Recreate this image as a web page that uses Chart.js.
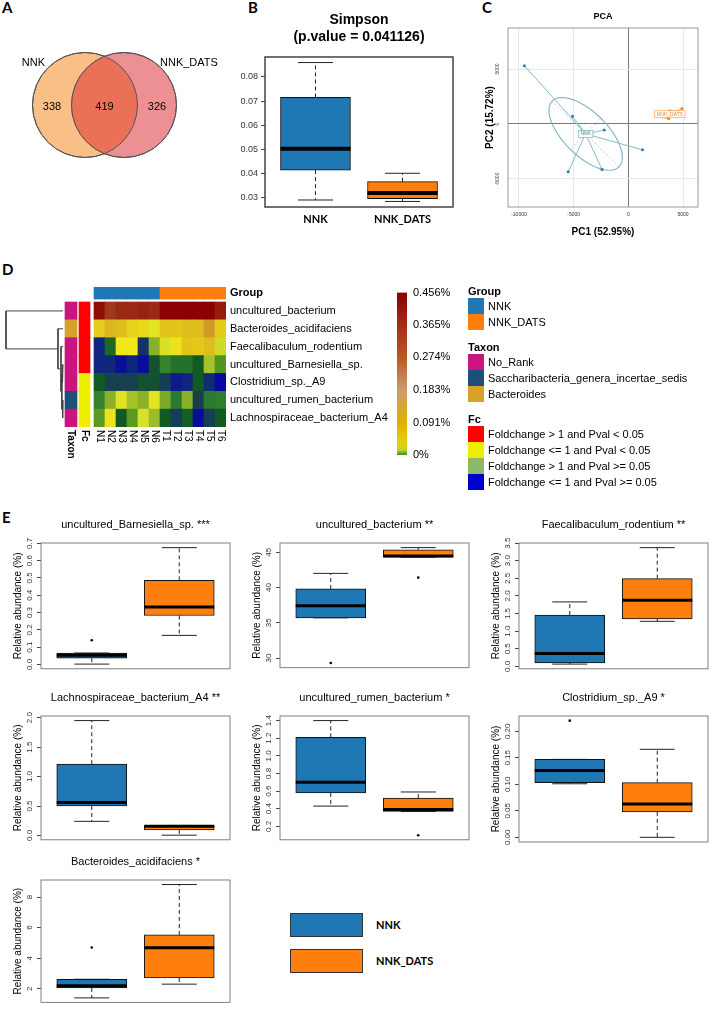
<!DOCTYPE html>
<html>
<head>
<meta charset="utf-8">
<title>NNK vs NNK_DATS microbiota</title>
<script src="https://cdn.jsdelivr.net/npm/chart.js@4.4.1/dist/chart.umd.min.js"></script>
<style>
  body { margin: 0; background: #fff; }
  #fig { position: relative; width: 710px; height: 1012px; overflow: hidden; font-family: "Liberation Sans", Arial, sans-serif; color: #000; }
  #fig canvas { position: absolute; }
  .tag { position: absolute; font: bold 15px Lato, sans-serif; line-height: 15px; }
  .txt { position: absolute; white-space: nowrap; font-size: 11px; line-height: 11px; }
  .sw { position: absolute; box-sizing: border-box; }
</style>
</head>
<body>
<div id="fig"></div>
<script>
// ---- data ----
const groups = ['NNK', 'NNK_DATS'];
const vennCounts = [338, 419, 326]; // NNK only, shared, NNK_DATS only

// Simpson index, [min, q1, median, q3, max]
const simpsonStats = [[0.0289, 0.0413, 0.0502, 0.0715, 0.0860], [0.0283, 0.0295, 0.0318, 0.0365, 0.0400]];
const simpsonP = 0.041126;
const simpsonTicks = [0.03, 0.04, 0.05, 0.06, 0.07, 0.08];

// PCA scores
const pcaNNK = [[-9500, 5300], [-5100, 700], [-2200, -550], [1300, -2350], [-2400, -4150], [-5500, -4350]];
const pcaDATS = [[2600, 750], [3600, 550], [3800, 1200], [4200, 950], [4900, 1400], [3700, 500]];
const pcaVar = [52.95, 15.72];
const pcaXTicks = [-10000, -5000, 0, 5000];
const pcaYTicks = [-5000, 0, 5000];

// heatmap
const taxa = ['uncultured_bacterium', 'Bacteroides_acidifaciens', 'Faecalibaculum_rodentium', 'uncultured_Barnesiella_sp.',
  'Clostridium_sp._A9', 'uncultured_rumen_bacterium', 'Lachnospiraceae_bacterium_A4'];
const samples = ['N1', 'N2', 'N3', 'N4', 'N5', 'N6', 'T1', 'T2', 'T3', 'T4', 'T5', 'T6'];
const sampleGroup = [0, 0, 0, 0, 0, 0, 1, 1, 1, 1, 1, 1];
const heat = [
  [0.96, 0.80, 0.88, 0.88, 0.90, 0.88, 1.00, 1.00, 1.00, 1.00, 1.00, 0.92],
  [0.60, 0.64, 0.63, 0.59, 0.58, 0.52, 0.62, 0.62, 0.63, 0.63, 0.68, 0.61],
  [0.08, 0.25, 0.55, 0.55, 0.12, 0.42, 0.50, 0.56, 0.62, 0.61, 0.63, 0.49],
  [0.08, 0.09, 0.02, 0.08, 0.01, 0.20, 0.31, 0.27, 0.27, 0.22, 0.45, 0.35],
  [0.22, 0.16, 0.16, 0.16, 0.20, 0.20, 0.15, 0.05, 0.08, 0.22, 0.10, 0.00],
  [0.31, 0.42, 0.52, 0.45, 0.42, 0.52, 0.40, 0.29, 0.42, 0.16, 0.29, 0.30],
  [0.36, 0.56, 0.22, 0.36, 0.50, 0.44, 0.22, 0.15, 0.23, 0.01, 0.15, 0.22]
];
const taxonNames = ['No_Rank', 'Saccharibacteria_genera_incertae_sedis', 'Bacteroides'];
const taxonClass = [0, 2, 0, 0, 0, 1, 0];
const fcNames = ['Foldchange > 1 and Pval < 0.05', 'Foldchange <= 1 and Pval < 0.05', 'Foldchange > 1 and Pval >= 0.05', 'Foldchange <= 1 and Pval >= 0.05'];
const fcClass = [0, 0, 0, 0, 1, 1, 1];
// hclust style merges: negative = leaf (1-based), positive = earlier merge
const dendMerge = [[-6, -7, 0.008], [-4, -5, 0.012], [2, 1, 0.02], [-3, 3, 0.035], [-2, 4, 0.088], [-1, 5, 1]];
const colorbarTicks = [0, 0.091, 0.183, 0.274, 0.365, 0.456];

// boxplots (relative abundance %), [min, q1, median, q3, max]
const boxTaxa = ['uncultured_Barnesiella_sp.', 'uncultured_bacterium', 'Faecalibaculum_rodentium', 'Lachnospiraceae_bacterium_A4',
  'uncultured_rumen_bacterium', 'Clostridium_sp._A9', 'Bacteroides_acidifaciens'];
const boxStars = ['***', '**', '**', '**', '*', '*', '*'];
const boxNNK = [
  [0.002, 0.036, 0.053, 0.066, 0.066],
  [35.7, 35.7, 37.4, 39.8, 42.0],
  [0.066, 0.10, 0.37, 1.46, 1.83],
  [0.24, 0.50, 0.56, 1.21, 1.95],
  [0.43, 0.58, 0.70, 1.21, 1.40],
  [0.101, 0.103, 0.126, 0.147, 0.147],
  [1.40, 2.05, 2.20, 2.62, 2.62]
];
const boxDATS = [
  [0.168, 0.283, 0.332, 0.486, 0.675],
  [44.3, 44.3, 44.45, 45.35, 45.65],
  [1.28, 1.35, 1.88, 2.49, 3.37],
  [0.005, 0.095, 0.155, 0.165, 0.17],
  [0.37, 0.37, 0.39, 0.52, 0.59],
  [0.0, 0.048, 0.063, 0.103, 0.166],
  [2.30, 2.70, 4.68, 5.52, 8.82]
];
const outNNK = [[0.14], [29.3], [], [], [], [0.22], [4.7]];
const outDATS = [[], [41.4], [], [], [0.10], [], []];
const boxTicks = [
  [0, 0.1, 0.2, 0.3, 0.4, 0.5, 0.6, 0.7],
  [30, 35, 40, 45],
  [0, 0.5, 1, 1.5, 2, 2.5, 3, 3.5],
  [0, 0.5, 1, 1.5, 2],
  [0.2, 0.4, 0.6, 0.8, 1.0, 1.2, 1.4],
  [0, 0.05, 0.1, 0.15, 0.2],
  [2, 4, 6, 8]
];
const boxDecimals = [1, 0, 1, 1, 1, 2, 0];

// ---- styles ----
const BLUE = '#1F77B4', ORANGE = '#FF7F0E';
const heatStops = [[0, '#0808A0'], [0.08, '#0F2580'], [0.16, '#164050'], [0.22, '#135A22'], [0.3, '#2E7E30'], [0.36, '#5A9A20'],
  [0.42, '#8AB02A'], [0.5, '#D8E028'], [0.55, '#EEE81C'], [0.62, '#E2C41A'], [0.68, '#D09A28'], [0.78, '#A03B1E'], [0.88, '#9B2A15'], [1, '#8B0000']];
const cbStops = [[0, '#2F8F2A'], [0.03, '#C8D21E'], [0.08, '#E6D00A'], [0.2, '#E0B000'], [0.4, '#CE9A70'], [0.6, '#B85A24'], [0.8, '#A52D12'], [1, '#8B0000']];
const taxonColors = ['#CC1480', '#1E4E7A', '#D8A22A'];
const fcColors = ['#FF0000', '#EEEE00', '#8DB96D', '#0000CC'];

Chart.defaults.font.family = '"Liberation Sans", Arial, sans-serif';
Chart.defaults.color = '#000';
Chart.defaults.animation = false;
Chart.defaults.events = [];
Chart.defaults.layout.autoPadding = false;
Chart.defaults.plugins.legend.display = false;
Chart.defaults.plugins.tooltip.enabled = false;

const fig = document.getElementById('fig');
const mctx = document.createElement('canvas').getContext('2d');

function canvasAt(x, y, w, h) {
  const c = document.createElement('canvas');
  c.width = w; c.height = h;
  c.style.left = x + 'px'; c.style.top = y + 'px';
  c.style.width = w + 'px'; c.style.height = h + 'px';
  fig.appendChild(c);
  return c;
}
function addDiv(cls, text, x, y, css) {
  const d = document.createElement('div');
  d.className = cls;
  d.textContent = text;
  d.style.left = x + 'px'; d.style.top = y + 'px';
  if (css) Object.assign(d.style, css);
  fig.appendChild(d);
  return d;
}
function seg(ctx, x1, y1, x2, y2) {
  ctx.beginPath(); ctx.moveTo(x1, y1); ctx.lineTo(x2, y2); ctx.stroke();
}
function hex2rgb(h) { return [1, 3, 5].map(i => parseInt(h.slice(i, i + 2), 16)); }
function ramp(stops, v) {
  for (let i = 1; i < stops.length; i++) {
    if (v <= stops[i][0]) {
      const [t0, c0] = stops[i - 1], [t1, c1] = stops[i];
      const f = (v - t0) / (t1 - t0), a = hex2rgb(c0), b = hex2rgb(c1);
      return 'rgb(' + a.map((x, k) => Math.round(x + (b[k] - x) * f)).join(',') + ')';
    }
  }
  return stops[stops.length - 1][1];
}
// empty right axis so the chart title centres over the plot
const spacer = w => ({
  position: 'right', display: true, afterFit: s => { s.width = w; },
  grid: {display: false, drawTicks: false}, ticks: {display: false}, border: {display: false}
});

// ---- panel letters ----
addDiv('tag', 'A', 2, 0);
addDiv('tag', 'B', 248, 0);
addDiv('tag', 'C', 482, 0);
addDiv('tag', 'D', 2, 262);
addDiv('tag', 'E', 2, 510);

// ---- A: Venn ----
const vennPlugin = {
  id: 'venn',
  afterDatasetsDraw(chart) {
    const {ctx} = chart;
    const [a, b] = chart.getDatasetMeta(0).data;
    const r = a.options.radius;
    ctx.save();
    ctx.beginPath(); ctx.arc(a.x, a.y, r, 0, 2 * Math.PI); ctx.clip();
    ctx.beginPath(); ctx.arc(b.x, b.y, r, 0, 2 * Math.PI);
    ctx.fillStyle = '#EA7058'; ctx.fill();
    ctx.restore();
    ctx.save();
    ctx.strokeStyle = '#555'; ctx.lineWidth = 1;
    [a, b].forEach(p => { ctx.beginPath(); ctx.arc(p.x, p.y, r, 0, 2 * Math.PI); ctx.stroke(); });
    ctx.fillStyle = '#000'; ctx.font = '11px "Liberation Sans"';
    ctx.textAlign = 'center'; ctx.textBaseline = 'middle';
    const mid = (a.x + b.x) / 2, cy = a.y + 2;
    ctx.fillText(vennCounts[0], mid - r, cy);
    ctx.fillText(vennCounts[1], mid, cy);
    ctx.fillText(vennCounts[2], mid + r, cy);
    ctx.textAlign = 'right'; ctx.fillText(groups[0], a.x - 40, a.y - 42);
    ctx.textAlign = 'left'; ctx.fillText(groups[1], b.x + 36, b.y - 42);
    ctx.restore();
  }
};
new Chart(canvasAt(0, 0, 220, 200), {
  type: 'scatter',
  data: {datasets: [{
    data: groups.map((g, i) => ({x: i, y: 0})),
    pointRadius: 52.5, backgroundColor: ['#F9BF87', '#EC9094'], borderColor: '#555', borderWidth: 1
  }]},
  options: {
    responsive: false, layout: {padding: 0},
    scales: {x: {display: false, min: -85 / 39, max: 135 / 39}, y: {display: false, min: -0.95, max: 1.05}}
  },
  plugins: [vennPlugin]
});

// ---- boxplot helper ----
function boxChart(el, o) {
  const all = o.stats.flat().concat(o.outliers.flat());
  const lo = Math.min(...all), hi = Math.max(...all), ext = (hi - lo) * 0.04;
  const fmt = v => v.toFixed(o.dec);
  let tickPad = 3;
  if (o.rotateTicks) {
    mctx.font = o.tickSize + 'px "Liberation Sans"';
    const widest = Math.max(...o.ticks.map(v => mctx.measureText(fmt(v)).width));
    tickPad = o.tickCenter - 4 - widest / 2;
  }
  const extras = {
    id: 'boxExtras',
    beforeDatasetsDraw(chart) {
      const {ctx, scales: {x, y}} = chart;
      const bars = chart.getDatasetMeta(0).data;
      ctx.save();
      ctx.strokeStyle = '#222'; ctx.lineWidth = 1;
      o.stats.forEach((s, g) => {
        const cx = x.getPixelForValue(g + 1), half = bars[g].width / 2;
        ctx.setLineDash([4, 3]);
        seg(ctx, cx, y.getPixelForValue(s[3]), cx, y.getPixelForValue(s[4]));
        seg(ctx, cx, y.getPixelForValue(s[1]), cx, y.getPixelForValue(s[0]));
        ctx.setLineDash([]);
        [s[0], s[4]].forEach(v => seg(ctx, cx - half / 2, y.getPixelForValue(v), cx + half / 2, y.getPixelForValue(v)));
      });
      ctx.restore();
    },
    afterDatasetsDraw(chart) {
      const {ctx, scales: {x, y}} = chart;
      const bars = chart.getDatasetMeta(0).data;
      ctx.save();
      ctx.strokeStyle = '#000'; ctx.lineWidth = o.medianW;
      o.stats.forEach((s, g) => {
        const cx = x.getPixelForValue(g + 1), half = bars[g].width / 2;
        seg(ctx, cx - half, y.getPixelForValue(s[2]), cx + half, y.getPixelForValue(s[2]));
      });
      ctx.restore();
    },
    afterDraw(chart) {
      const {ctx, chartArea: a} = chart;
      ctx.save();
      ctx.strokeStyle = o.frameColor; ctx.lineWidth = o.frameW;
      ctx.strokeRect(a.left, a.top, a.right - a.left, a.bottom - a.top);
      ctx.restore();
    }
  };
  return new Chart(el, {
    type: 'bar',
    data: {datasets: [{
      data: o.stats.map((s, g) => ({x: g + 1, y: [s[1], s[3]]})),
      backgroundColor: [BLUE, ORANGE], borderColor: '#111', borderWidth: 1, borderSkipped: false, barThickness: o.boxW
    }, {
      type: 'scatter',
      data: o.outliers.flatMap((list, g) => list.map(v => ({x: g + 1, y: v}))),
      pointRadius: 1.3, pointBackgroundColor: '#000', pointBorderWidth: 0
    }]},
    options: {
      responsive: false,
      layout: {padding: o.pad},
      plugins: {title: {display: true, text: o.title, font: o.titleFont, padding: o.titlePad, color: '#000'}},
      scales: {
        x: {
          type: 'linear', offset: false, min: 0.42, max: 2.58, display: !!o.xLabels,
          afterFit: s => { s.height = o.xH || 0; },
          afterBuildTicks: s => { s.ticks = [{value: 1}, {value: 2}]; },
          grid: {display: false, drawTicks: false, offset: false}, border: {display: false},
          ticks: {callback: v => groups[v - 1], font: {family: 'Lato', weight: 'bold', size: 11}, padding: 6, color: '#000', autoSkip: false, maxRotation: 0}
        },
        y: {
          min: lo - ext, max: hi + ext,
          afterFit: s => { s.width = o.yW; },
          afterBuildTicks: s => { s.ticks = o.ticks.map(v => ({value: v})); },
          grid: {drawOnChartArea: false, tickLength: 4, color: '#444'}, border: {display: false},
          ticks: {
            font: {size: o.tickSize}, color: '#333', callback: v => fmt(v), autoSkip: false, padding: tickPad,
            minRotation: o.rotateTicks ? 90 : 0, maxRotation: o.rotateTicks ? 90 : 0, crossAlign: o.rotateTicks ? 'center' : 'near'
          },
          title: o.yTitle ? {display: true, text: o.yTitle, font: {size: 10}, padding: {top: 12, bottom: 0}, color: '#000'} : {display: false}
        },
        y2: spacer(o.yW)
      }
    },
    plugins: [extras]
  });
}

// ---- B: Simpson ----
boxChart(canvasAt(215, 0, 288, 230), {
  stats: simpsonStats, outliers: [[], []], ticks: simpsonTicks, dec: 2,
  title: ['Simpson', '(p.value = ' + simpsonP + ')'],
  titleFont: {size: 14, weight: 'bold', lineHeight: 1.214}, titlePad: {top: 11.5, bottom: 11.5},
  pad: 0, yW: 50, xH: 23, xLabels: true,
  tickSize: 9, rotateTicks: false, boxW: 70, medianW: 4, frameColor: '#444', frameW: 1.5
});

// ---- C: PCA ----
function classStats(pts) {
  const n = pts.length;
  const mx = pts.reduce((s, p) => s + p[0], 0) / n, my = pts.reduce((s, p) => s + p[1], 0) / n;
  let a = 0, b = 0, c = 0;
  pts.forEach(p => { a += (p[0] - mx) ** 2; b += (p[0] - mx) * (p[1] - my); c += (p[1] - my) ** 2; });
  a /= n; b /= n; c /= n;
  const m = (a + c) / 2, d = Math.sqrt(((a - c) / 2) ** 2 + b * b);
  const l1 = m + d, l2 = Math.max(m - d, 0);
  let v = [b, l1 - a]; const len = Math.hypot(v[0], v[1]) || 1; v = [v[0] / len, v[1] / len];
  return {mx, my, a1: [v[0] * Math.sqrt(l1), v[1] * Math.sqrt(l1)], a2: [-v[1] * Math.sqrt(l2), v[0] * Math.sqrt(l2)]};
}
const pcaClasses = [[pcaNNK, '#86B9C4', '#4F8E9C', groups[0]], [pcaDATS, '#F6AE6C', '#F08A2C', groups[1]]];
const pcaPlugin = {
  id: 'pcaClass',
  beforeDatasetsDraw(chart) {
    const {ctx, chartArea: ar, scales: {x, y}} = chart;
    ctx.save();
    ctx.beginPath(); ctx.rect(ar.left, ar.top, ar.right - ar.left, ar.bottom - ar.top); ctx.clip();
    pcaClasses.forEach(([pts, col]) => {
      const s = classStats(pts);
      const px = (dx, dy) => [x.getPixelForValue(dx), y.getPixelForValue(dy)];
      const c = px(s.mx, s.my);
      ctx.strokeStyle = col; ctx.lineWidth = 1;
      pts.forEach(p => { const q = px(p[0], p[1]); seg(ctx, q[0], q[1], c[0], c[1]); });
      ctx.beginPath();
      for (let k = 0; k <= 72; k++) {
        const t = k / 72 * 2 * Math.PI;
        const q = px(s.mx + Math.cos(t) * s.a1[0] + Math.sin(t) * s.a2[0], s.my + Math.cos(t) * s.a1[1] + Math.sin(t) * s.a2[1]);
        if (k === 0) ctx.moveTo(q[0], q[1]); else ctx.lineTo(q[0], q[1]);
      }
      ctx.lineWidth = 1.2; ctx.stroke();
      ctx.lineWidth = 0.6; ctx.setLineDash([2, 2]);
      [s.a1, s.a2].forEach(ax => {
        const p1 = px(s.mx - ax[0], s.my - ax[1]), p2 = px(s.mx + ax[0], s.my + ax[1]);
        seg(ctx, p1[0], p1[1], p2[0], p2[1]);
      });
      ctx.setLineDash([]);
    });
    ctx.restore();
  },
  afterDatasetsDraw(chart) {
    const {ctx, scales: {x, y}} = chart;
    ctx.save();
    ctx.font = '5px "Liberation Sans"'; ctx.textAlign = 'center'; ctx.textBaseline = 'middle';
    pcaClasses.forEach(([pts, col, tcol, name]) => {
      const s = classStats(pts);
      const cx = x.getPixelForValue(s.mx), cy = y.getPixelForValue(s.my);
      const w = ctx.measureText(name).width + 4;
      ctx.fillStyle = 'rgba(255,255,255,0.9)'; ctx.strokeStyle = col; ctx.lineWidth = 0.8;
      ctx.fillRect(cx - w / 2, cy - 3.5, w, 7); ctx.strokeRect(cx - w / 2, cy - 3.5, w, 7);
      ctx.fillStyle = tcol; ctx.fillText(name, cx, cy);
    });
    ctx.restore();
  },
  afterDraw(chart) {
    const {ctx, chartArea: a} = chart;
    ctx.save(); ctx.strokeStyle = '#9a9a9a'; ctx.lineWidth = 1;
    ctx.strokeRect(a.left, a.top, a.right - a.left, a.bottom - a.top);
    ctx.restore();
  }
};
mctx.font = '5px "Liberation Sans"';
const pcaYWidest = Math.max(...pcaYTicks.map(v => mctx.measureText(String(v)).width));
const gridCol = c => (c.tick && c.tick.value === 0 ? '#7a7a7a' : '#e8e8e8');
new Chart(canvasAt(470, 0, 266, 240), {
  type: 'scatter',
  data: {datasets: [
    {data: pcaNNK.map(p => ({x: p[0], y: p[1]})), pointRadius: 1.5, pointBackgroundColor: '#2A79B4', pointBorderWidth: 0},
    {data: pcaDATS.map(p => ({x: p[0], y: p[1]})), pointRadius: 1.5, pointBackgroundColor: '#F5841F', pointBorderWidth: 0}
  ]},
  options: {
    responsive: false,
    layout: {padding: 0},
    plugins: {title: {display: true, text: 'PCA', font: {size: 9, weight: 'bold'}, padding: {top: 11.6, bottom: 5.6}, color: '#000'}},
    scales: {
      x: {
        min: -11000, max: 6370,
        afterFit: s => { s.height = 33; },
        afterBuildTicks: s => { s.ticks = pcaXTicks.map(v => ({value: v})); },
        grid: {color: gridCol, drawTicks: false}, border: {display: false},
        ticks: {font: {size: 5}, padding: 5, color: '#333', autoSkip: false, maxRotation: 0, callback: v => String(v)},
        title: {display: true, text: 'PC1 (' + pcaVar[0] + '%)', font: {size: 10, weight: 'bold'}, padding: {top: 0, bottom: 2}, color: '#000'}
      },
      y: {
        min: -7550, max: 8730,
        afterFit: s => { s.width = 38; },
        afterBuildTicks: s => { s.ticks = pcaYTicks.map(v => ({value: v})); },
        grid: {color: gridCol, drawTicks: false}, border: {display: false},
        ticks: {font: {size: 5}, padding: 10 - pcaYWidest / 2, color: '#333', autoSkip: false, minRotation: 90, maxRotation: 90, crossAlign: 'center', callback: v => String(v)},
        title: {display: true, text: 'PC2 (' + pcaVar[1] + '%)', font: {size: 10, weight: 'bold'}, padding: {top: 14, bottom: 0}, color: '#000'}
      },
      y2: spacer(38)
    }
  },
  plugins: [pcaPlugin]
});

// ---- D: heatmap ----
const ROW_PX = 125 / 7;
const TAXON_X = [-2.636, -1.545], FC_X = [-1.364, -0.364];
const cells = [], cellColors = [];
taxa.forEach((t, r) => samples.forEach((s, j) => {
  cells.push({y: r + 0.5, x: [j, j + 1]});
  cellColors.push(ramp(heatStops, heat[r][j]));
}));
const annot = [], annotColors = [];
taxa.forEach((t, r) => {
  annot.push({y: r + 0.5, x: TAXON_X}); annotColors.push(taxonColors[taxonClass[r]]);
  annot.push({y: r + 0.5, x: FC_X}); annotColors.push(fcColors[fcClass[r]]);
});
const nodes = [];
const nodeOf = k => (k < 0 ? {h: 0, y: -k - 1 + 0.5} : nodes[k - 1]);
const dendSets = dendMerge.map(([p, q, h]) => {
  const c1 = nodeOf(p), c2 = nodeOf(q);
  nodes.push({h, y: (c1.y + c2.y) / 2});
  return {
    type: 'scatter', xAxisID: 'xd', yAxisID: 'y', showLine: true, pointRadius: 0, borderColor: '#444', borderWidth: 1, clip: false,
    data: [{x: c1.h, y: c1.y}, {x: h, y: c1.y}, {x: h, y: c2.y}, {x: c2.h, y: c2.y}]
  };
});
const heatLabels = {
  id: 'heatLabels',
  afterDraw(chart) {
    const {ctx, scales: {x, y}} = chart;
    ctx.save();
    ctx.fillStyle = '#000'; ctx.textBaseline = 'middle'; ctx.textAlign = 'left';
    const lx = x.getPixelForValue(12) + 4;
    ctx.font = 'bold 11px "Liberation Sans"';
    ctx.fillText('Group', lx, y.getPixelForValue(-0.5));
    ctx.font = '11px "Liberation Sans"';
    taxa.forEach((t, r) => ctx.fillText(t, lx, y.getPixelForValue(r + 0.5)));
    const colLabel = (s, xv, font) => {
      ctx.save();
      ctx.translate(x.getPixelForValue(xv), y.getPixelForValue(7) + 3);
      ctx.rotate(Math.PI / 2);
      ctx.font = font; ctx.fillText(s, 0, 0);
      ctx.restore();
    };
    samples.forEach((s, j) => colLabel(s, j + 0.5, '10px "Liberation Sans"'));
    colLabel('Taxon', (TAXON_X[0] + TAXON_X[1]) / 2, 'bold 10px "Liberation Sans"');
    colLabel('Fc', (FC_X[0] + FC_X[1]) / 2, 'bold 10px "Liberation Sans"');
    ctx.restore();
  }
};
const barBase = {type: 'bar', indexAxis: 'y', grouped: false, borderWidth: 0, barThickness: ROW_PX};
new Chart(canvasAt(0, 280, 390, 190), {
  type: 'bar',
  data: {datasets: [
    Object.assign({}, barBase, {data: cells, backgroundColor: cellColors}),
    Object.assign({}, barBase, {data: annot, backgroundColor: annotColors}),
    Object.assign({}, barBase, {barThickness: 12, data: samples.map((s, j) => ({y: -0.5, x: [j, j + 1]})),
      backgroundColor: sampleGroup.map(g => (g === 0 ? BLUE : ORANGE))}),
    ...dendSets
  ]},
  options: {
    responsive: false,
    layout: {padding: {left: 5, right: 164, top: 7, bottom: 43}},
    scales: {
      x: {type: 'linear', offset: false, display: false, min: -89 / 11, max: 12},
      xd: {type: 'linear', axis: 'x', offset: false, position: 'bottom', display: false, reverse: true, min: -2.8604, max: 1.0175},
      y: {type: 'linear', offset: false, display: false, reverse: true, min: -0.84, max: 7, afterBuildTicks: s => { s.ticks = []; }}
    }
  },
  plugins: [heatLabels]
});

// colour key
new Chart(canvasAt(390, 280, 80, 190), {
  type: 'bar',
  data: {datasets: [{
    data: [{x: 0, y: [0, colorbarTicks[colorbarTicks.length - 1]]}], barThickness: 10, borderWidth: 0,
    backgroundColor: c => {
      const a = c.chart.chartArea;
      if (!a) return '#ccc';
      const g = c.chart.ctx.createLinearGradient(0, a.bottom, 0, a.top);
      cbStops.forEach(([t, col]) => g.addColorStop(t, col));
      return g;
    }
  }]},
  options: {
    responsive: false,
    layout: {padding: {left: 7, right: 0, top: 8, bottom: 15}},
    scales: {
      x: {type: 'linear', offset: false, display: false, min: -0.5, max: 0.5},
      y: {
        position: 'right', min: 0, max: colorbarTicks[colorbarTicks.length - 1],
        afterFit: s => { s.width = 63; },
        afterBuildTicks: s => { s.ticks = colorbarTicks.map(v => ({value: v})); },
        grid: {display: false, drawTicks: false}, border: {display: false},
        ticks: {padding: 6, font: {size: 11}, color: '#000', autoSkip: false, callback: v => (v === 0 ? '0' : v.toFixed(3)) + '%'}
      }
    }
  }
});

// legend for D
function legendBlock(title, names, colors, top) {
  addDiv('txt', title, 468, top - 5.5, {fontWeight: 'bold'});
  names.forEach((n, i) => {
    const y0 = top + 7 + i * 16;
    addDiv('sw', '', 468, y0, {width: '16px', height: '16px', background: colors[i]});
    addDiv('txt', n, 488, y0 + 8 - 5.5);
  });
}
legendBlock('Group', groups, [BLUE, ORANGE], 291);
legendBlock('Taxon', taxonNames, taxonColors, 347);
legendBlock('Fc', fcNames, fcColors, 419);

// ---- E: boxplots ----
const slotCol = [0, 1, 2, 0, 1, 2, 0], slotRow = [0, 0, 0, 1, 1, 1, 2];
const colLeft = [41, 280, 519], rowTop = [543, 716, 880], rowH = [129, 127, 129];
boxTaxa.forEach((name, i) => {
  const L = colLeft[slotCol[i]], T = rowTop[slotRow[i]], H = rowH[slotRow[i]];
  boxChart(canvasAt(L - 41, T - 26, 271, 26 + H + 3), {
    stats: [boxNNK[i], boxDATS[i]], outliers: [outNNK[i], outDATS[i]], ticks: boxTicks[i], dec: boxDecimals[i],
    title: name + ' ' + boxStars[i], titleFont: {size: 11, weight: 'normal'}, titlePad: {top: 1.4, bottom: 11.4},
    pad: {left: 0, right: 0, top: 0, bottom: 3}, yW: 41, yTitle: 'Relative abundance (%)',
    tickSize: 8, rotateTicks: true, tickCenter: 11, boxW: 70, medianW: 3, frameColor: '#808080', frameW: 1
  });
});

// legend for E
groups.forEach((g, i) => {
  const top = 913 + i * 36;
  addDiv('sw', '', 290, top, {width: '73px', height: '24px', background: i === 0 ? BLUE : ORANGE, border: '1px solid #333'});
  addDiv('txt', g, 376, top + 12 - 6.3, {font: 'bold 11px Lato, sans-serif', lineHeight: '12px'});
});
</script>
</body>
</html>
